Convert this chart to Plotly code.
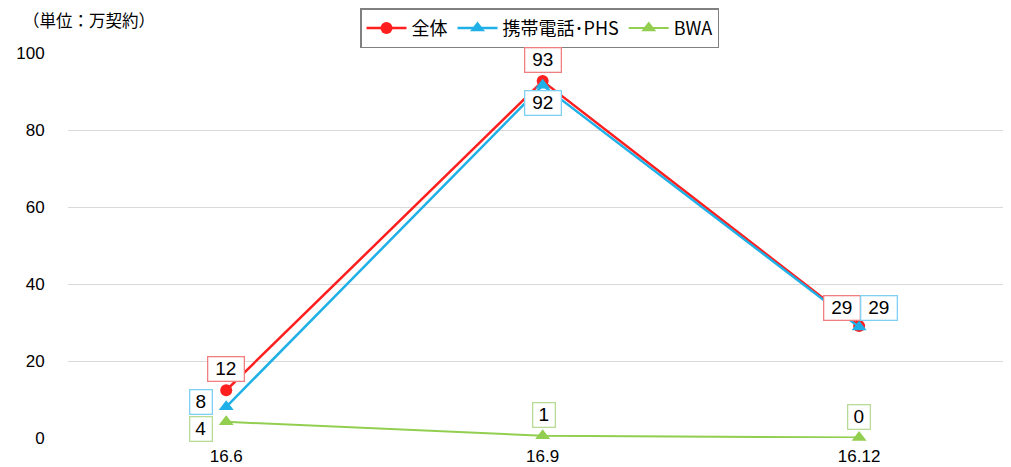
import plotly.graph_objects as go

categories = ["16.6", "16.9", "16.12"]
total = [12.4, 92.7, 29.1]
mobile = [8.1, 91.6, 28.8]
bwa = [4.2, 0.6, 0.1]
total_labels = ["12", "93", "29"]
mobile_labels = ["8", "92", "29"]
bwa_labels = ["4", "1", "0"]
series_names = ["全体", "携帯電話･PHS", "BWA"]
unit_text = "（単位：万契約）"
y_ticks = [0, 20, 40, 60, 80, 100]

RED = "#ff1f1f"
BLUE = "#1fb0e8"
GREEN = "#92cf50"
RED_B = "#f08080"
BLUE_B = "#80d0f4"
GREEN_B = "#b8dc98"

FONT = "Liberation Sans, Arial, sans-serif"
CJK = "Noto Sans CJK JP, Liberation Sans, sans-serif"

fig = go.Figure()
fig.add_trace(go.Scatter(x=categories, y=total, name=series_names[0], mode="lines+markers",
                         line=dict(color=RED, width=2.5),
                         marker=dict(symbol="circle", size=12, color=RED),
                         cliponaxis=False))
fig.add_trace(go.Scatter(x=categories, y=mobile, name=series_names[1], mode="lines+markers",
                         line=dict(color=BLUE, width=2.5),
                         marker=dict(symbol="triangle-up", size=13, color=BLUE),
                         cliponaxis=False))
fig.add_trace(go.Scatter(x=categories, y=bwa, name=series_names[2], mode="lines+markers",
                         line=dict(color=GREEN, width=2),
                         marker=dict(symbol="triangle-up", size=13, color=GREEN),
                         cliponaxis=False))

# label offsets (pixels) per series/point
total_shift = [(0, 21), (0, 21), (-17, 18)]
mobile_shift = [(-25, 5), (0, -18), (20, 19)]
bwa_shift = [(-25, -7), (1, 21), (0, 21)]

annots = []

def add_labels(vals, labels, shifts, border):
    for i, (v, t) in enumerate(zip(vals, labels)):
        w = 31 if len(t) > 1 else 17
        annots.append(dict(x=i, y=v, xref="x", yref="y", text=t,
                           showarrow=False, xshift=shifts[i][0], yshift=shifts[i][1],
                           font=dict(family=FONT, size=19, color="#000000"),
                           bgcolor="#ffffff", bordercolor=border, borderwidth=1.3,
                           borderpad=2, width=w, height=19))

add_labels(total, total_labels, total_shift, RED_B)
add_labels(mobile, mobile_labels, mobile_shift, BLUE_B)
add_labels(bwa, bwa_labels, bwa_shift, GREEN_B)

annots.append(dict(x=-0.05, y=1.086, xref="paper", yref="paper", xanchor="left",
                   yanchor="middle", text=unit_text, showarrow=False,
                   font=dict(family=CJK, size=16.5, color="#000000")))

# page has an 8px body margin: figure is placed at (8, 8)
fig.update_layout(
    width=1003, height=459,
    margin=dict(l=60, r=0, t=45, b=29),
    paper_bgcolor="#ffffff", plot_bgcolor="#ffffff",
    font=dict(family=FONT, size=16, color="#000000"),
    showlegend=True,
    annotations=annots,
    legend=dict(orientation="h", x=0.5, xanchor="center", y=1.116, yanchor="top",
                bordercolor="#808080", borderwidth=1.5, bgcolor="#ffffff",
                font=dict(family=CJK, size=18, color="#000000"),
                itemwidth=40, tracegroupgap=0),
)
fig.update_xaxes(type="category", range=[-0.5, 2.48], showgrid=False, showline=False,
                 zeroline=False, ticks="outside", ticklen=3, tickcolor="rgba(0,0,0,0)",
                 tickfont=dict(family=FONT, size=17, color="#000000"), automargin=False)
fig.update_yaxes(range=[0, 100], tickvals=y_ticks, showgrid=True, gridcolor="#d9d9d9",
                 gridwidth=1, zeroline=False, showline=False, ticks="outside", ticklen=19,
                 tickcolor="rgba(0,0,0,0)",
                 tickfont=dict(family=FONT, size=17, color="#000000"), automargin=False)

fig.write_html("out.html")
